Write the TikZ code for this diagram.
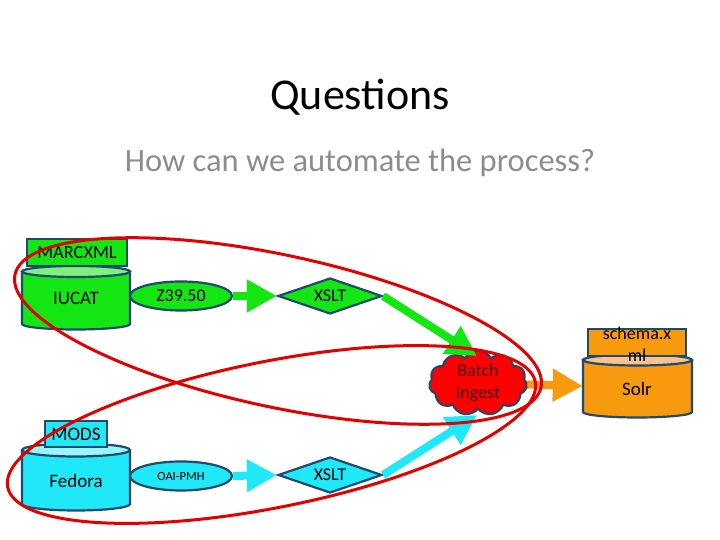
\documentclass[tikz,border=0pt]{standalone}
\usepackage{fontspec}
\setmainfont{Carlito}
\usetikzlibrary{shapes.geometric,shapes.symbols,arrows.meta}
\definecolor{bord}{HTML}{1F4A6E}
\definecolor{gfill}{HTML}{14E614}
\definecolor{gtop}{HTML}{80F080}
\definecolor{cfill}{HTML}{21E8F8}
\definecolor{ctop}{HTML}{9AF5FA}
\definecolor{ofill}{HTML}{F79A0E}
\definecolor{otop}{HTML}{FAC08F}
\definecolor{ringred}{HTML}{E50000}
\definecolor{subgray}{HTML}{8C8C8C}
\newcommand{\mycyl}[7]{% cx, rx, ytop, ybot, ry, body, top
  \fill[#6] ({#1-#2},#3) -- ({#1-#2},#4) arc[start angle=180,end angle=360,x radius=#2,y radius=#5] -- ({#1+#2},#3) -- cycle;
  \draw[bord,line width=2.2pt] ({#1-#2},#3) -- ({#1-#2},#4) arc[start angle=180,end angle=360,x radius=#2,y radius=#5] -- ({#1+#2},#3);
  \draw[bord,line width=2.2pt,fill=#7] (#1,#3) ellipse[x radius=#2,y radius=#5];
}
\tikzset{
  lbl/.style={font=\fontsize{19}{22}\selectfont, text=black, inner sep=0pt, align=center},
  tagbox/.style={draw=bord, line width=2.2pt, inner sep=0pt},
  ovalbox/.style={ellipse, draw=bord, line width=2.2pt, inner sep=0pt, minimum width=102pt, minimum height=29pt, font=\fontsize{18}{21}\selectfont},
  diabox/.style={diamond, draw=bord, line width=2.2pt, inner sep=0pt, aspect=2.9, minimum width=104pt, minimum height=36pt, font=\fontsize{18}{21}\selectfont},
  blockarrow/.style={line width=8pt, -{Triangle[length=30pt,width=31pt]}},
  ring/.style={draw=ringred, line width=3pt},
}
\begin{document}
\begin{tikzpicture}[x=1pt,y=1pt]
\useasboundingbox (0,0) rectangle (720,540);
% titles
\node[font=\fontsize{44}{50}\selectfont] (title) at (360,443) {Questions};
\node[font=\fontsize{32.5}{38}\selectfont, text=subgray] (subtitle) at (360,377) {How can we automate the process?};

% IUCAT cylinder
\mycyl{76}{54}{268.5}{216}{5.5}{gfill}{gtop}
\node[lbl] (iucat) at (76,242) {IUCAT};
\node[tagbox, fill=gfill, minimum width=100pt, minimum height=26.5pt, font=\fontsize{18.5}{21}\selectfont] (marc) at (77,287.5) {MARCXML};

% Fedora cylinder
\mycyl{76}{54}{90}{36}{6.5}{cfill}{ctop}
\node[lbl] (fedora) at (76,59) {Fedora};
\node[tagbox, fill=cfill, minimum width=62pt, minimum height=26pt, font=\fontsize{19}{22}\selectfont] (mods) at (76,106) {MODS};

% Solr cylinder
\mycyl{637.5}{54.5}{180}{128}{5.5}{ofill}{otop}
\node[tagbox, fill=ofill, minimum width=98pt, minimum height=27pt] (schemabox) at (637,197.5) {};
\node[lbl, font=\fontsize{18}{22}\selectfont] (schema) at (637,196) {schema.x\\ml};
\node[lbl] (solr) at (637,151) {Solr};
\node[minimum width=109pt, minimum height=60pt, inner sep=0pt] (solrbox) at (637.5,154) {};

% ovals and diamonds
\node[ovalbox, fill=gfill] (z3950) at (181,244) {Z39.50};
\node[diabox, fill=gfill] (xslt1) at (330,244) {XSLT};
\node[ovalbox, fill=cfill, font=\fontsize{12.5}{14}\selectfont] (oai) at (181,64) {OAI-PMH};
\node[diabox, fill=cfill] (xslt2) at (330,65) {XSLT};

% batch ingest cloud
\draw[blockarrow, ofill] (505,156) -- (solrbox.west);
\node[cloud, cloud puffs=11, cloud puff arc=120, aspect=1.6, draw=bord, line width=2pt, fill=red, inner sep=0pt, minimum width=98pt, minimum height=64pt, align=center, font=\fontsize{18}{22}\selectfont, text={rgb,255:red,60;green,10;blue,10}] (batch) at (478,157) {Batch\\Ingest};

\coordinate (gtip) at (477,184);
\coordinate (ctip) at (477,125);
\draw[blockarrow, gfill] (z3950.east) -- (xslt1.west);
\draw[blockarrow, gfill] (xslt1.east) -- (gtip);
\draw[blockarrow, cfill] (oai.east) -- (xslt2.west);
\draw[blockarrow, cfill] (xslt2.east) -- (ctip);

% red rings
\draw[ring, rotate around={-12.1:(278,209)}] (278,209) ellipse[x radius=269, y radius=76];
\draw[ring, rotate around={11.3:(271.5,105.5)}] (271.5,105.5) ellipse[x radius=269, y radius=73];
\end{tikzpicture}
\end{document}
